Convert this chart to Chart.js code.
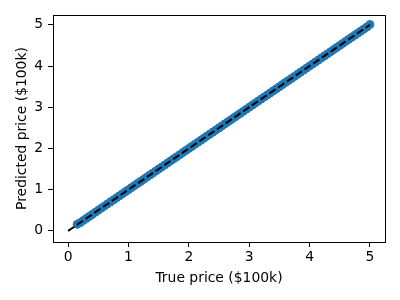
<!DOCTYPE html>
<html>
<head>
<meta charset="utf-8">
<script src="https://cdn.jsdelivr.net/npm/chart.js@4"></script>
<style>
  html, body { margin: 0; padding: 0; background: #fff; }
  #wrap { width: 400px; height: 300px; }
</style>
</head>
<body>
<div id="wrap"><canvas id="priceChart" width="400" height="300"></canvas></div>
<script>
var trueVals = [
    0.15, 0.20, 0.25, 0.30, 0.35, 0.40, 0.45, 0.50, 0.55, 0.60,
    0.65, 0.70, 0.75, 0.80, 0.85, 0.90, 0.95, 1.00, 1.05, 1.10,
    1.15, 1.20, 1.25, 1.30, 1.35, 1.40, 1.45, 1.50, 1.55, 1.60,
    1.65, 1.70, 1.75, 1.80, 1.85, 1.90, 1.95, 2.00, 2.05, 2.10,
    2.15, 2.20, 2.25, 2.30, 2.35, 2.40, 2.45, 2.50, 2.55, 2.60,
    2.65, 2.70, 2.75, 2.80, 2.85, 2.90, 2.95, 3.00, 3.05, 3.10,
    3.15, 3.20, 3.25, 3.30, 3.35, 3.40, 3.45, 3.50, 3.55, 3.60,
    3.65, 3.70, 3.75, 3.80, 3.85, 3.90, 3.95, 4.00, 4.05, 4.10,
    4.15, 4.20, 4.25, 4.30, 4.35, 4.40, 4.45, 4.50, 4.55, 4.60,
    4.65, 4.70, 4.75, 4.80, 4.85, 4.90, 4.95, 5.00
];
var predVals = [
    0.16, 0.20, 0.25, 0.30, 0.35, 0.40, 0.45, 0.50, 0.55, 0.60,
    0.65, 0.70, 0.75, 0.80, 0.85, 0.90, 0.95, 1.00, 1.05, 1.10,
    1.15, 1.20, 1.25, 1.30, 1.35, 1.40, 1.45, 1.50, 1.55, 1.60,
    1.65, 1.70, 1.75, 1.80, 1.85, 1.90, 1.95, 2.00, 2.05, 2.10,
    2.15, 2.20, 2.25, 2.30, 2.35, 2.40, 2.45, 2.50, 2.55, 2.60,
    2.65, 2.70, 2.75, 2.80, 2.85, 2.90, 2.95, 3.00, 3.05, 3.10,
    3.15, 3.20, 3.25, 3.30, 3.35, 3.40, 3.45, 3.50, 3.55, 3.60,
    3.65, 3.70, 3.75, 3.80, 3.85, 3.90, 3.95, 4.00, 4.05, 4.10,
    4.15, 4.20, 4.25, 4.30, 4.35, 4.40, 4.45, 4.50, 4.55, 4.60,
    4.65, 4.70, 4.75, 4.80, 4.85, 4.90, 4.95, 5.01
];
var refLineX = [0, 5];
var refLineY = [0, 5];
var tickVals = [0, 1, 2, 3, 4, 5];

var fontSpec = { family: "'DejaVu Sans', sans-serif", size: 13.9 };

var frameBox = {
    id: 'frameBox',
    afterDraw: function(chart) {
        var a = chart.chartArea;
        var ctx = chart.ctx;
        ctx.save();
        ctx.strokeStyle = '#000';
        ctx.lineWidth = 1;
        ctx.strokeRect(Math.round(a.left) + 0.5, Math.round(a.top) + 0.5,
            Math.round(a.right - a.left), Math.round(a.bottom - a.top));
        ctx.restore();
    }
};

function fixedTicks(scale) {
    scale.ticks = tickVals.map(function(v) { return { value: v }; });
}

var priceChart = new Chart(document.getElementById('priceChart'), {
    type: 'scatter',
    data: {
        datasets: [{
            type: 'line',
            label: 'Ideal',
            data: refLineX.map(function(x, i) { return { x: x, y: refLineY[i] }; }),
            borderColor: '#000',
            borderWidth: 2,
            borderDash: [7.4, 3.2],
            pointRadius: 0,
            fill: false,
            order: 0
        },
        {
            label: 'Predictions',
            data: trueVals.map(function(x, i) { return { x: x, y: predVals[i] }; }),
            backgroundColor: '#1f77b4',
            borderColor: '#1f77b4',
            borderWidth: 1,
            pointRadius: 4,
            order: 1
        }]
    },
    options: {
        responsive: false,
        animation: false,
        layout: { padding: { top: 15, right: 15, left: 10, bottom: 9 } },
        plugins: {
            legend: { display: false },
            tooltip: { enabled: false }
        },
        scales: {
            x: {
                type: 'linear',
                min: -0.25,
                max: 5.25,
                afterBuildTicks: fixedTicks,
                afterFit: function(scale) { scale.height = 49; },
                grid: { drawOnChartArea: false, tickLength: 5, color: '#000' },
                border: { color: '#000' },
                ticks: { color: '#000', font: fontSpec, padding: 2, maxRotation: 0 },
                title: { display: true, text: 'True price ($100k)', color: '#000', font: fontSpec, padding: { top: 0 } }
            },
            y: {
                type: 'linear',
                min: -0.27,
                max: 5.24,
                afterBuildTicks: fixedTicks,
                afterFit: function(scale) { scale.width = 43; },
                grid: { drawOnChartArea: false, tickLength: 5, color: '#000' },
                border: { color: '#000' },
                ticks: { color: '#000', font: fontSpec, padding: 5 },
                title: { display: true, text: 'Predicted price ($100k)', color: '#000', font: fontSpec, padding: { bottom: 4 } }
            }
        }
    },
    plugins: [frameBox]
});
</script>
</body>
</html>
